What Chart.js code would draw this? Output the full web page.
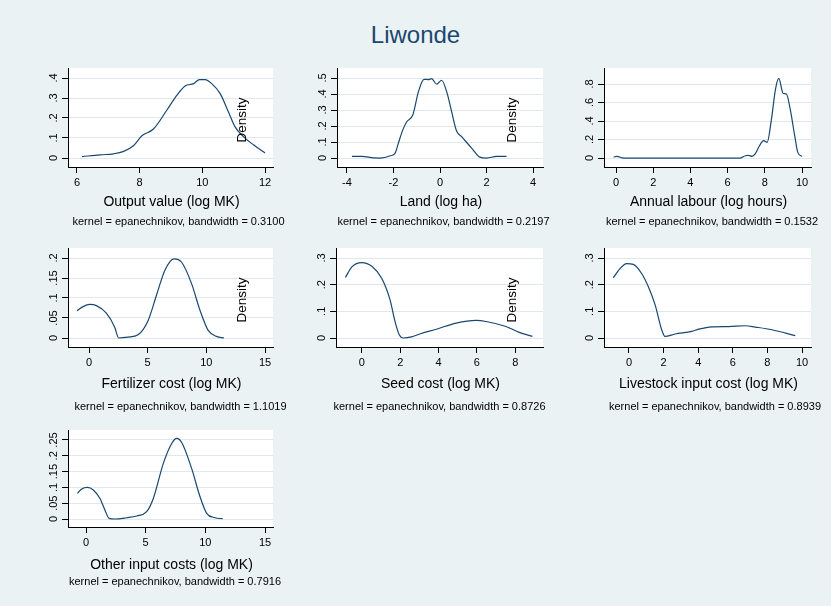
<!DOCTYPE html>
<html>
<head>
<meta charset="utf-8">
<title>Liwonde</title>
<script src="https://cdn.jsdelivr.net/npm/chart.js@4.4.1/dist/chart.umd.min.js"></script>
<style>
  html, body { margin: 0; padding: 0; background: #eaf2f3; }
  #page { position: relative; width: 831px; height: 606px; background: #eaf2f3; overflow: hidden; }
  #page canvas { position: absolute; }
  #titulo {
    position: absolute; left: 0; top: 21px; width: 831px; text-align: center;
    font: 24px "Liberation Sans", Arial, sans-serif; color: #1a476f;
  }
</style>
</head>
<body>
<div id="page">
  <div id="titulo">Liwonde</div>
</div>
<script>
// Densidades estimadas (kernel epanechnikov) - valores x / y de cada curva
const outputX = [6.16, 6.74, 7.17, 7.49, 7.8, 8.07, 8.44, 8.87, 9.19, 9.45, 9.72, 9.91, 10.09, 10.3, 10.57, 10.83, 11.04, 11.31, 11.63, 12.0];
const outputY = [0.007, 0.016, 0.021, 0.033, 0.061, 0.111, 0.145, 0.24, 0.314, 0.36, 0.372, 0.392, 0.392, 0.372, 0.322, 0.231, 0.157, 0.107, 0.066, 0.025];

const landX = [-3.79, -3.36, -2.86, -2.57, -2.14, -1.93, -1.79, -1.6, -1.43, -1.17, -0.93, -0.69, -0.5, -0.36, -0.14, 0.07, 0.29, 0.5, 0.71, 0.93, 1.36, 1.71, 2.0, 2.43, 2.86];
const landY = [0.010, 0.010, 0.001, 0.0, 0.014, 0.031, 0.093, 0.176, 0.227, 0.269, 0.413, 0.492, 0.49, 0.496, 0.461, 0.486, 0.413, 0.29, 0.17, 0.134, 0.062, 0.006, 0.0, 0.010, 0.010];

const labourX = [-0.13, 0.05, 0.41, 6.68, 6.95, 7.13, 7.31, 7.49, 7.71, 7.94, 8.12, 8.35, 8.57, 8.75, 8.98, 9.16, 9.37, 9.61, 9.77, 10.0];
const labourY = [0.011, 0.018, 0.0, 0.0, 0.025, 0.029, 0.018, 0.047, 0.133, 0.187, 0.169, 0.413, 0.743, 0.861, 0.70, 0.692, 0.52, 0.233, 0.061, 0.018];

const fertX = [-1.02, -0.51, 0.06, 0.63, 1.48, 2.19, 2.53, 3.33, 4.18, 5.04, 5.75, 6.46, 7.23, 7.88, 8.74, 9.45, 10.16, 10.87, 11.5];
const fertY = [0.068, 0.0785, 0.084, 0.081, 0.062, 0.027, 0.0, 0.002, 0.008, 0.044, 0.107, 0.169, 0.198, 0.19, 0.136, 0.07, 0.019, 0.004, 0.0];

const seedX = [-0.86, -0.52, 0.0, 0.52, 1.04, 1.47, 1.73, 1.95, 2.16, 2.59, 3.02, 3.89, 4.92, 5.96, 6.48, 7.52, 8.21, 8.9];
const seedY = [0.227, 0.267, 0.283, 0.269, 0.223, 0.143, 0.062, 0.012, 0.0, 0.004, 0.015, 0.033, 0.056, 0.066, 0.062, 0.043, 0.021, 0.006];

const livestockX = [-0.91, -0.52, -0.14, 0.25, 0.73, 1.12, 1.51, 1.89, 2.08, 2.66, 3.63, 4.02, 4.79, 5.75, 6.72, 7.3, 8.26, 9.61];
const livestockY = [0.226, 0.26, 0.279, 0.276, 0.242, 0.192, 0.124, 0.031, 0.006, 0.015, 0.025, 0.033, 0.042, 0.043, 0.046, 0.041, 0.031, 0.009];

const otherX = [-0.73, -0.36, 0.11, 0.61, 1.17, 1.59, 1.93, 2.43, 3.41, 4.25, 5.08, 5.64, 6.48, 7.18, 7.6, 8.02, 8.85, 9.55, 10.11, 10.81, 11.45];
const otherY = [0.081, 0.095, 0.1, 0.092, 0.065, 0.028, 0.002, 0.0, 0.004, 0.0095, 0.023, 0.065, 0.176, 0.239, 0.255, 0.242, 0.16, 0.071, 0.018, 0.004, 0.001];

// Marcas dos eixos
const outputTicksX = [6, 8, 10, 12];
const outputTicksY = [0, 0.1, 0.2, 0.3, 0.4];
const landTicksX = [-4, -2, 0, 2, 4];
const landTicksY = [0, 0.1, 0.2, 0.3, 0.4, 0.5];
const labourTicksX = [0, 2, 4, 6, 8, 10];
const labourTicksY = [0, 0.2, 0.4, 0.6, 0.8];
const costTicksX = [0, 5, 10, 15];
const fertTicksY = [0, 0.05, 0.1, 0.15, 0.2];
const seedTicksX = [0, 2, 4, 6, 8];
const seedTicksY = [0, 0.1, 0.2, 0.3];
const otherTicksY = [0, 0.05, 0.1, 0.15, 0.2, 0.25];

// Títulos e notas
const xTitles = ['Output value (log MK)', 'Land (log ha)', 'Annual labour (log hours)', 'Fertilizer cost (log MK)',
                 'Seed cost (log MK)', 'Livestock input cost (log MK)', 'Other input costs (log MK)'];
const bandwidths = ['0.3100', '0.2197', '0.1532', '1.1019', '0.8726', '0.8939', '0.7916'];

const FONTE = '"Liberation Sans", Arial, sans-serif';
const AZUL = '#1a476f';

// Formato estilo Stata: .1 em vez de 0.1
function formatar(v) {
    if (v === 0) return '0';
    return String(v).replace(/^0\./, '.').replace(/^-0\./, '-.');
}

// Plugin: fundo branco da área, rótulos verticais do eixo y, títulos e nota
const decoracao = {
    id: 'decoracao',
    beforeDraw(chart) {
        const { ctx, chartArea: a } = chart;
        ctx.save();
        ctx.fillStyle = '#ffffff';
        ctx.fillRect(a.left, a.top, a.right - a.left, a.bottom - a.top);
        ctx.restore();
    },
    afterDraw(chart, args, opts) {
        const { ctx, chartArea: a } = chart;
        const y = chart.scales.y;
        const meio = (a.left + a.right) / 2;
        ctx.save();
        ctx.fillStyle = '#000';
        ctx.textAlign = 'center';

        ctx.font = '11px ' + FONTE;
        ctx.textBaseline = 'alphabetic';
        y.ticks.forEach(t => {
            ctx.save();
            ctx.translate(a.left - 11, y.getPixelForValue(t.value));
            ctx.rotate(-Math.PI / 2);
            ctx.fillText(formatar(t.value), 0, 0);
            ctx.restore();
        });

        ctx.textBaseline = 'middle';
        ctx.font = '14px ' + FONTE;
        ctx.fillText(opts.titulo, meio + 1, a.bottom + opts.tituloDy);

        ctx.font = '11px ' + FONTE;
        ctx.fillText(opts.nota, meio + opts.notaDx, a.bottom + opts.notaDy);

        if (opts.densidade) {
            ctx.save();
            ctx.font = '13.5px ' + FONTE;
            ctx.translate(a.right - 31, a.top + 52);
            ctx.rotate(-Math.PI / 2);
            ctx.fillText('Density', 0, 0);
            ctx.restore();
        }
        ctx.restore();
    }
};

// Cada painel: dados, marcas, limites e posição da área do gráfico
const paineis = [
    { xs: outputX, ys: outputY, tx: outputTicksX, ty: outputTicksY, xr: [5.713, 12.255], yr: [-0.045, 0.45],
      area: [68, 68, 273, 167], tituloDy: 35, notaDy: 55, notaDx: 8, densidade: true },
    { xs: landX, ys: landY, tx: landTicksX, ty: landTicksY, xr: [-4.43, 4.43], yr: [-0.056, 0.5625],
      area: [337, 68, 543, 167], tituloDy: 35, notaDy: 55, notaDx: 3.5, densidade: true },
    { xs: labourX, ys: labourY, tx: labourTicksX, ty: labourTicksY, xr: [-0.645, 10.48], yr: [-0.097, 0.973],
      area: [604, 68, 811, 167], tituloDy: 35, notaDy: 55, notaDx: 4.5, densidade: false },
    { xs: fertX, ys: fertY, tx: costTicksX, ty: fertTicksY, xr: [-1.79, 15.68], yr: [-0.0225, 0.225],
      area: [68, 248, 273, 347], tituloDy: 37, notaDy: 60, notaDx: 10, densidade: true },
    { xs: seedX, ys: seedY, tx: seedTicksX, ty: seedTicksY, xr: [-1.35, 9.45], yr: [-0.03375, 0.3375],
      area: [336, 248, 543, 347], tituloDy: 37, notaDy: 60, notaDx: 0, densidade: true },
    { xs: livestockX, ys: livestockY, tx: labourTicksX, ty: seedTicksY, xr: [-1.445, 10.52], yr: [-0.03375, 0.3375],
      area: [604, 248, 811, 347], tituloDy: 37, notaDy: 60, notaDx: 7.5, densidade: false },
    { xs: otherX, ys: otherY, tx: costTicksX, ty: otherTicksY, xr: [-1.51, 15.67], yr: [-0.0253, 0.2816],
      area: [68, 430, 273, 527], tituloDy: 38, notaDy: 55, notaDx: 4.5, densidade: false }
];

const MARGEM_ESQ = 60, MARGEM_TOPO = 10, MARGEM_DIR = 25, MARGEM_BAIXO = 75;

function criarPainel(p, i) {
    const [l, t, r, b] = p.area;
    const canvas = document.createElement('canvas');
    const w = (r - l) + MARGEM_ESQ + MARGEM_DIR;
    const h = (b - t) + MARGEM_TOPO + MARGEM_BAIXO;
    canvas.width = w;
    canvas.height = h;
    canvas.style.left = (l - MARGEM_ESQ) + 'px';
    canvas.style.top = (t - MARGEM_TOPO) + 'px';
    canvas.style.width = w + 'px';
    canvas.style.height = h + 'px';
    document.getElementById('page').appendChild(canvas);

    return new Chart(canvas.getContext('2d'), {
        type: 'line',
        data: {
            datasets: [{
                data: p.xs.map((x, k) => ({ x: x, y: p.ys[k] })),
                borderColor: AZUL,
                borderWidth: 1.2,
                pointRadius: 0,
                fill: false,
                cubicInterpolationMode: 'monotone'
            }]
        },
        options: {
            responsive: false,
            animation: false,
            layout: { padding: { left: 0, top: MARGEM_TOPO, right: MARGEM_DIR, bottom: 0 } },
            plugins: {
                legend: { display: false },
                tooltip: { enabled: false },
                decoracao: {
                    titulo: xTitles[i],
                    nota: 'kernel = epanechnikov, bandwidth = ' + bandwidths[i],
                    tituloDy: p.tituloDy,
                    notaDy: p.notaDy,
                    notaDx: p.notaDx,
                    densidade: p.densidade
                }
            },
            scales: {
                x: {
                    type: 'linear',
                    min: p.xr[0],
                    max: p.xr[1],
                    afterBuildTicks: s => { s.ticks = p.tx.map(v => ({ value: v })); },
                    afterFit: s => { s.height = MARGEM_BAIXO; },
                    ticks: {
                        color: '#000',
                        font: { family: FONTE, size: 11 },
                        padding: 3,
                        maxRotation: 0,
                        callback: v => String(v)
                    },
                    grid: { drawOnChartArea: false, drawTicks: true, tickLength: 6, tickColor: '#000' },
                    border: { display: true, color: '#000', width: 1 }
                },
                y: {
                    type: 'linear',
                    min: p.yr[0],
                    max: p.yr[1],
                    afterBuildTicks: s => { s.ticks = p.ty.map(v => ({ value: v })); },
                    afterFit: s => { s.width = MARGEM_ESQ; },
                    ticks: { display: false },
                    grid: { color: '#dfe9ec', lineWidth: 1, drawTicks: true, tickLength: 6, tickColor: '#000' },
                    border: { display: true, color: '#000', width: 1 }
                }
            }
        },
        plugins: [decoracao]
    });
}

// Desenha os sete painéis quando a página é carregada
document.addEventListener('DOMContentLoaded', () => {
    paineis.forEach(criarPainel);
});
</script>
</body>
</html>
